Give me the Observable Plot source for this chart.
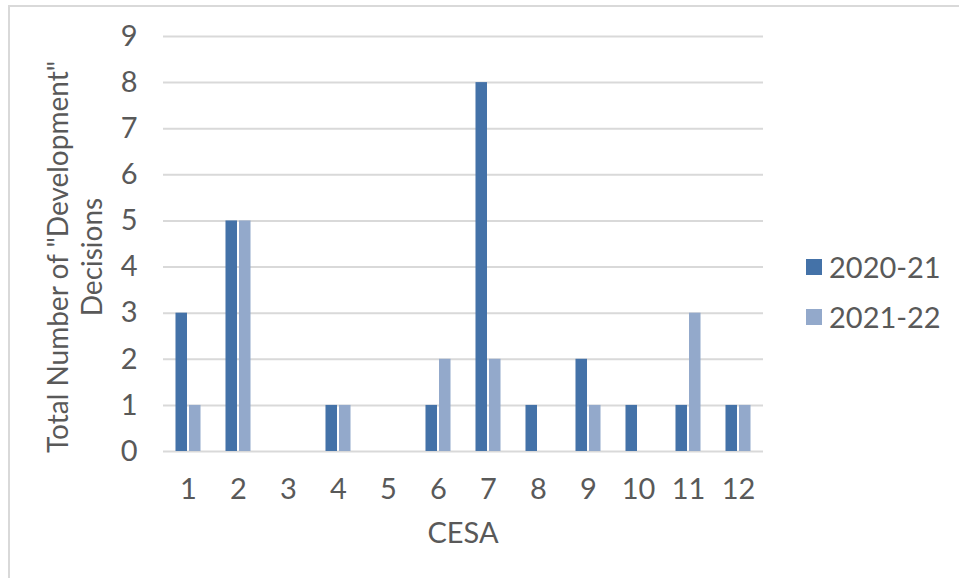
<!DOCTYPE html>
<html><head><meta charset="utf-8">
<script src="https://cdn.jsdelivr.net/npm/d3@7"></script>
<script src="https://cdn.jsdelivr.net/npm/@observablehq/plot@0.6"></script>
<style>
body{margin:0;background:#fff;font-family:Lato,sans-serif;color:#595959;}
#wrap{position:relative;width:959px;height:578px;overflow:hidden;}
#frame{position:absolute;left:8px;top:5px;width:1100px;height:800px;border:2px solid #d9d9d9;box-sizing:border-box;}
#chart{position:absolute;left:0;top:0;}
#ytitle{position:absolute;left:-176px;top:223px;width:500px;height:68px;text-align:center;font-size:28px;line-height:34px;transform:rotate(-90deg);white-space:nowrap;}
#xtitle{position:absolute;left:363px;top:516px;width:200px;text-align:center;font-size:29px;line-height:32px;}
.leg{position:absolute;left:806px;font-size:29px;line-height:30px;display:flex;align-items:center;white-space:nowrap;}
.leg span.sw{display:inline-block;width:16px;height:16px;margin-right:7px;}
</style></head>
<body>
<div id="wrap">
  <div id="frame"></div>
  <div id="chart"></div>
  <div id="ytitle">Total Number of "Development"<br>Decisions</div>
  <div id="xtitle">CESA</div>
  <div id="legend"></div>
</div>
<script>
const cesa = ["1","2","3","4","5","6","7","8","9","10","11","12"];
const series = ["2020-21","2021-22"];
const values2020 = [3,5,0,1,0,1,8,1,2,1,1,1];
const values2021 = [1,5,0,1,0,2,2,0,1,0,3,1];
const colors = ["#4472A8","#93A9CB"];
const yTicks = [0,1,2,3,4,5,6,7,8,9];

const data = cesa.flatMap((c, i) => [
  {cesa: c, series: series[0], value: values2020[i]},
  {cesa: c, series: series[1], value: values2021[i]}
]);

const chart = Plot.plot({
  width: 959, height: 578,
  marginLeft: 163, marginRight: 196, marginTop: 36, marginBottom: 127,
  style: {fontFamily: "Lato, sans-serif", fontSize: "29px", color: "#595959", background: "transparent", overflow: "visible"},
  fx: {domain: cesa, paddingInner: 0, paddingOuter: 0, round: false, label: null},
  x: {domain: series, paddingInner: 0.148, paddingOuter: 0.924, round: false, axis: null},
  y: {domain: [0, 9], label: null},
  color: {domain: series, range: colors},
  marks: [
    Plot.gridY(yTicks, {stroke: "#d9d9d9", strokeOpacity: 1, strokeWidth: 2}),
    Plot.barY(data, {fx: "cesa", x: "series", y: "value", fill: "series"}),
    Plot.axisY(yTicks, {tickSize: 0, tickPadding: 26, label: null, fontSize: 29, fill: "#595959"}),
    Plot.axisFx({anchor: "bottom", tickSize: 0, tickPadding: 27, label: null, fontSize: 29, fill: "#595959"})
  ]
});
document.getElementById("chart").appendChild(chart);

const legend = document.getElementById("legend");
series.forEach((s, i) => {
  const d = document.createElement("div");
  d.className = "leg";
  d.style.top = (252 + i * 50) + "px";
  d.innerHTML = `<span class="sw" style="background:${colors[i]}"></span>${s}`;
  legend.appendChild(d);
});
</script>
</body></html>
